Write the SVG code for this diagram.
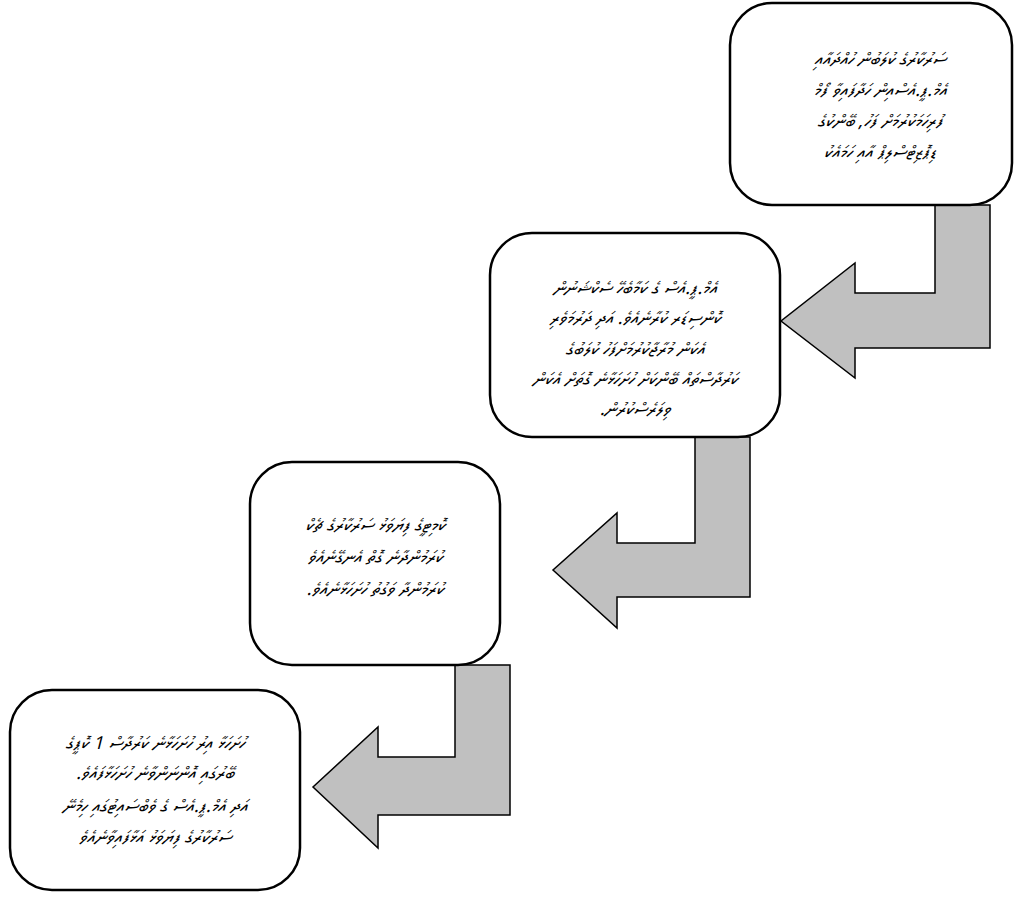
<svg xmlns="http://www.w3.org/2000/svg" width="1023" height="897" viewBox="0 0 1023 897">
<style>
.box{fill:#fff;stroke:#000;stroke-width:2.5}
.arr{fill:#c0c0c0;stroke:#000;stroke-width:1.5;stroke-linejoin:miter}
.t{font-family:"MV Boli","Noto Sans Thaana","DejaVu Sans","Noto Sans",sans-serif;font-size:18px;font-style:italic;fill:#000;text-anchor:middle;direction:rtl;unicode-bidi:embed}
</style>
<rect width="1023" height="897" fill="#fff"/>
<g id="connectors">
<path class="arr" d="M935,205 L990,205 L990,348 L855,348 L855,378 L781,321 L855,263 L855,293 L935,293 Z"/>
<path class="arr" d="M695,437 L750,437 L750,597 L617,597 L617,628 L553,570 L617,513 L617,543 L695,543 Z"/>
<path class="arr" d="M455,665 L510,665 L510,815 L378,815 L378,848 L313,787 L378,727 L378,757 L455,757 Z"/>
</g>
<g id="node1">
<rect class="box" x="730" y="3" width="282" height="202" rx="42"/>
<text class="t" x="880" y="65">ސަރުކާރުގެ ކުލަބުން ހުއްދައާއި</text>
<text class="t" x="880" y="96">އެމް.ޕީ.އެސްއިން ހަދާފައިވާ ފޯމް</text>
<text class="t" x="880" y="127">ފުރިހަމަކުރުމަށް ފަހު، ބޭންކުގެ</text>
<text class="t" x="880" y="158">ޑިޕޮޒިޓްސްލިޕް އާއި ހަމައެކު</text>
</g>
<g id="node2">
<rect class="box" x="490" y="233" width="290" height="204" rx="42"/>
<text class="t" x="635" y="294">އެމް.ޕީ.އެސް ގެ ކަމާބެހޭ ސެކްޝަނުން</text>
<text class="t" x="635" y="324">ކޮންސިޑަރ ކުރާނެއެވެ. އަދި ދަރުމަވެރި</text>
<text class="t" x="635" y="355">އެކަން މުރާޖާކުރުމަށްފަހު ކުލަބުގެ</text>
<text class="t" x="635" y="385">ކަރުދާސްތައް ބޭންކަށް ހުށަހަޅާނެ ގޮތަށް އެކަން</text>
<text class="t" x="635" y="415">ވިލަރެސްކުރުން.</text>
</g>
<g id="node3">
<rect class="box" x="250" y="462" width="250" height="203" rx="42"/>
<text class="t" x="375" y="531">ކޮމިޓީގެ ފިޔަވަޅު ސަރުކާރުގެ ޗެކް</text>
<text class="t" x="375" y="563">ކުރަމުންދާނެ ގޮތް އެނގޭނެއެވެ</text>
<text class="t" x="375" y="595">ކުރަމުންދާ ވަގުތު ހުށަހަޅާނެއެވެ.</text>
</g>
<g id="node4">
<rect class="box" x="10" y="690" width="290" height="200" rx="42"/>
<text class="t" x="155" y="749">ހުށަހަޅާ އިރު ހުށަހަޅާނެ ކަރުދާސް 1 ކޮޕީގެ</text>
<text class="t" x="155" y="779">ބޭރުގައި އޮންނަންވާނެ ހުށަހަޅާފައެވެ.</text>
<text class="t" x="155" y="812">އަދި އެމް.ޕީ.އެސް ގެ ވެބްސައިޓުގައި ހިމެނޭ</text>
<text class="t" x="155" y="843">ސަރުކާރުގެ ފިޔަވަޅު އަޅާފައިވާނެއެވެ</text>
</g>
</svg>
